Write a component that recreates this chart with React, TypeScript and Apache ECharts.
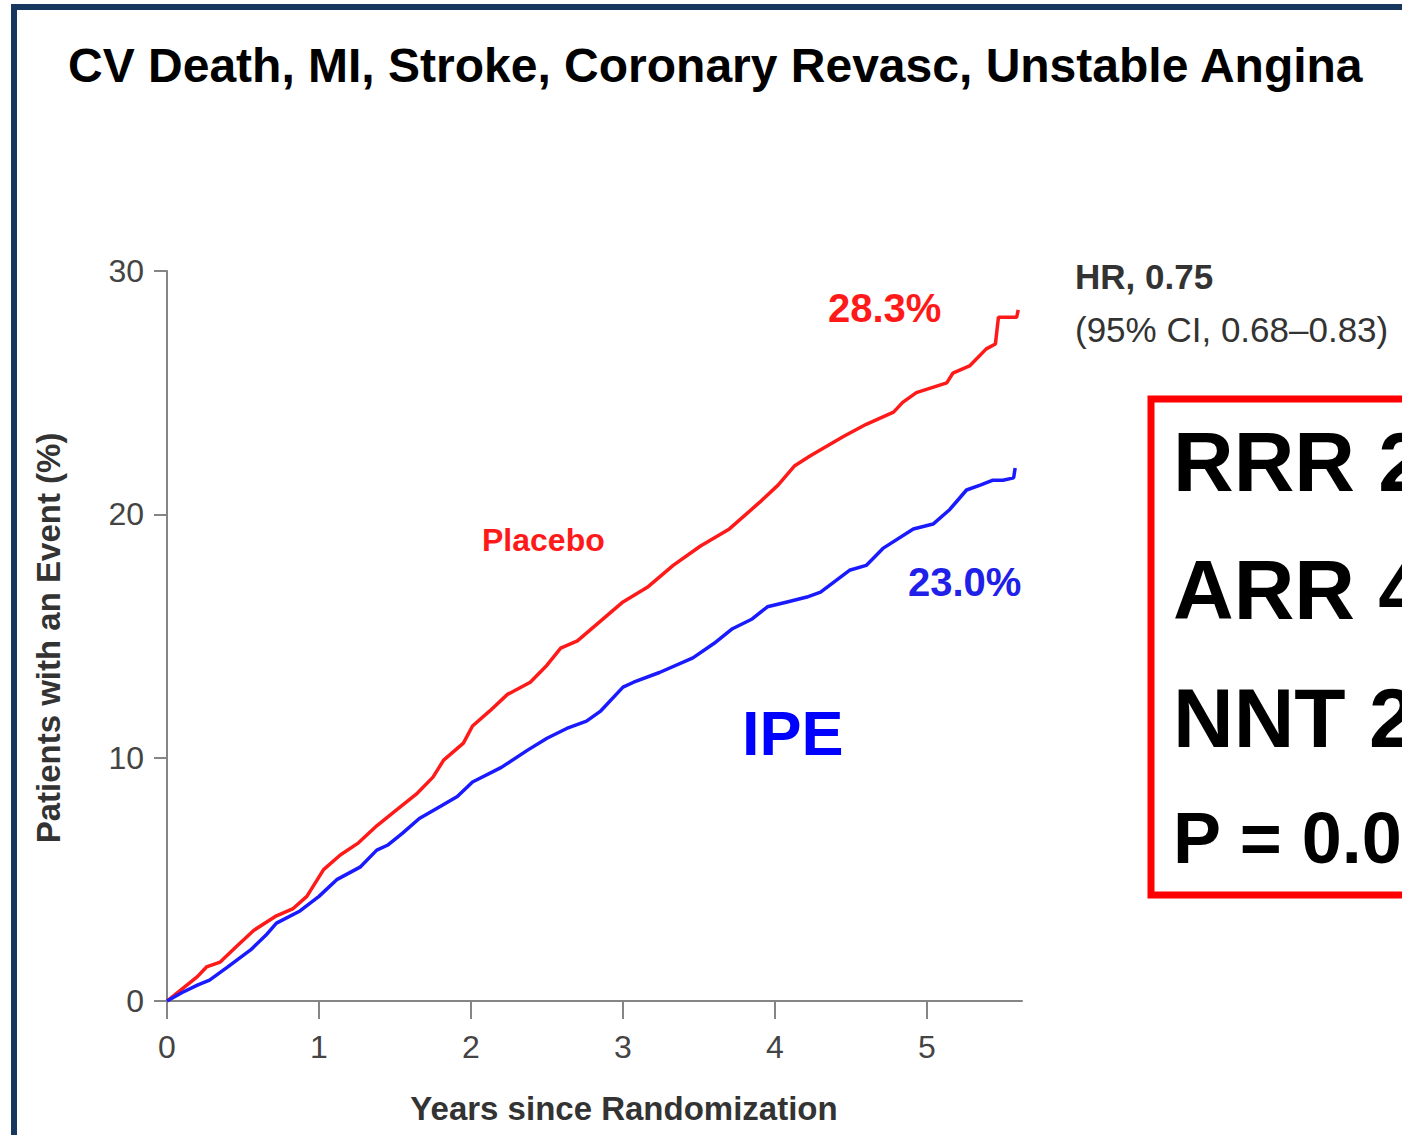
import React, { useEffect, useRef } from "react";
import * as echarts from "echarts";

const TITLE = "CV Death, MI, Stroke, Coronary Revasc, Unstable Angina";
const X_NAME = "Years since Randomization";
const Y_NAME = "Patients with an Event (%)";
const X_TICKS = [0, 1, 2, 3, 4, 5];

const placeboT = [0, 0.1, 0.2, 0.26, 0.35, 0.45, 0.57, 0.72, 0.83, 0.92, 1.03, 1.14, 1.26, 1.38, 1.5, 1.64, 1.75, 1.82, 1.95, 2.01, 2.12, 2.24, 2.39, 2.5, 2.59, 2.7, 2.85, 3.0, 3.16, 3.33, 3.51, 3.7, 3.9, 4.02, 4.13, 4.23, 4.45, 4.6, 4.78, 4.84, 4.93, 5.13, 5.17, 5.28, 5.39, 5.45, 5.47, 5.59, 5.6];
const placeboV = [0, 0.5, 1.0, 1.4, 1.6, 2.2, 2.9, 3.5, 3.8, 4.3, 5.4, 6.0, 6.5, 7.2, 7.8, 8.5, 9.2, 9.9, 10.6, 11.3, 11.9, 12.6, 13.1, 13.8, 14.5, 14.8, 15.6, 16.4, 17.0, 17.9, 18.7, 19.4, 20.5, 21.2, 22.0, 22.4, 23.2, 23.7, 24.2, 24.6, 25.0, 25.4, 25.8, 26.1, 26.8, 27.0, 28.1, 28.1, 28.4];

const ipeT = [0, 0.1, 0.2, 0.28, 0.4, 0.55, 0.65, 0.72, 0.875, 1.0, 1.12, 1.27, 1.38, 1.45, 1.55, 1.66, 1.8, 1.91, 2.01, 2.2, 2.37, 2.5, 2.63, 2.76, 2.85, 3.0, 3.07, 3.24, 3.46, 3.6, 3.72, 3.85, 3.95, 4.08, 4.21, 4.3, 4.49, 4.6, 4.71, 4.91, 5.04, 5.15, 5.26, 5.35, 5.43, 5.5, 5.57, 5.58];
const ipeV = [0, 0.35, 0.65, 0.86, 1.4, 2.1, 2.7, 3.2, 3.7, 4.3, 5.0, 5.5, 6.2, 6.4, 6.9, 7.5, 8.0, 8.4, 9.0, 9.6, 10.3, 10.8, 11.2, 11.5, 11.9, 12.9, 13.1, 13.5, 14.1, 14.7, 15.3, 15.7, 16.2, 16.4, 16.6, 16.8, 17.7, 17.9, 18.6, 19.4, 19.6, 20.2, 21.0, 21.2, 21.4, 21.4, 21.5, 21.9];

const PLACEBO_END = "28.3%";
const IPE_END = "23.0%";
const HR_LINE = "HR, 0.75";
const CI_LINE = "(95% CI, 0.68\u20130.83)";
const BOX_LINES = ["RRR 2", "ARR 4", "NNT 2", "P = 0.0"];

const FONT = "Arial, 'Liberation Sans', Helvetica, sans-serif";

export default function App() {
  const ref = useRef<HTMLDivElement>(null);
  useEffect(() => {
    if (!ref.current) return;
    const chart = echarts.init(ref.current, null, { renderer: "svg" });
    const txt = (text: string, x: number, y: number, size: number, weight: string, fill: string, extra: any = {}) => ({
      type: "text",
      x,
      y,
      silent: true,
      ...extra,
      style: { text, fontSize: size, fontWeight: weight, fontFamily: FONT, fill, verticalAlign: "middle", align: extra.align || "left" },
    });
    chart.setOption({
      animation: false,
      backgroundColor: "#ffffff",
      grid: { left: 167, right: 380, top: 271, bottom: 134 },
      xAxis: {
        type: "value",
        min: 0,
        max: 5.625,
        axisLine: { show: true, lineStyle: { color: "#858585", width: 2 } },
        axisTick: { show: true, length: 18, customValues: X_TICKS, lineStyle: { color: "#858585", width: 2 } },
        axisLabel: { customValues: X_TICKS, margin: 30, fontSize: 32, color: "#444", fontFamily: FONT },
        splitLine: { show: false },
      },
      yAxis: {
        type: "value",
        min: 0,
        max: 30,
        interval: 10,
        axisLine: { show: true, lineStyle: { color: "#858585", width: 2 } },
        axisTick: { show: true, length: 13, lineStyle: { color: "#858585", width: 2 } },
        axisLabel: { margin: 23, fontSize: 32, color: "#444", fontFamily: FONT },
        splitLine: { show: false },
      },
      series: [
        {
          type: "line",
          name: "Placebo",
          data: placeboT.map((t, i) => [t, placeboV[i]]),
          showSymbol: false,
          lineStyle: { color: "#ff1a1a", width: 3.5 },
          z: 3,
        },
        {
          type: "line",
          name: "IPE",
          data: ipeT.map((t, i) => [t, ipeV[i]]),
          showSymbol: false,
          lineStyle: { color: "#1a1aff", width: 3.5 },
          z: 3,
        },
      ],
      graphic: [
        {
          type: "rect",
          silent: true,
          shape: { x: 14, y: 7, width: 1500, height: 1300 },
          style: { fill: "none", stroke: "#17375e", lineWidth: 6 },
        },
        {
          type: "rect",
          silent: true,
          shape: { x: 1151, y: 399, width: 400, height: 496 },
          style: { fill: "none", stroke: "#ff0000", lineWidth: 7 },
        },
        txt(TITLE, 68, 65, 48, "bold", "#000"),
        txt(Y_NAME, 48, 638, 33, "bold", "#333", { rotation: Math.PI / 2, align: "center" }),
        txt(X_NAME, 624, 1108, 33, "bold", "#333", { align: "center" }),
        txt(HR_LINE, 1075, 276, 35, "bold", "#333"),
        txt(CI_LINE, 1075, 329, 35, "normal", "#333"),
        txt(PLACEBO_END, 828, 308, 40, "bold", "#ff1a1a"),
        txt(IPE_END, 908, 582, 40, "bold", "#2020e8"),
        txt("Placebo", 482, 540, 32, "bold", "#ff1a1a"),
        txt("IPE", 742, 733, 63, "bold", "#0000ff"),
        txt(BOX_LINES[0], 1173, 462, 84, "bold", "#000"),
        txt(BOX_LINES[1], 1173, 590, 84, "bold", "#000"),
        txt(BOX_LINES[2], 1173, 718, 84, "bold", "#000"),
        txt(BOX_LINES[3], 1173, 838, 72, "bold", "#000"),
      ],
    });
    return () => chart.dispose();
  }, []);
  return <div ref={ref} style={{ position: "fixed", left: 0, top: 0, width: 1402, height: 1135 }} />;
}
